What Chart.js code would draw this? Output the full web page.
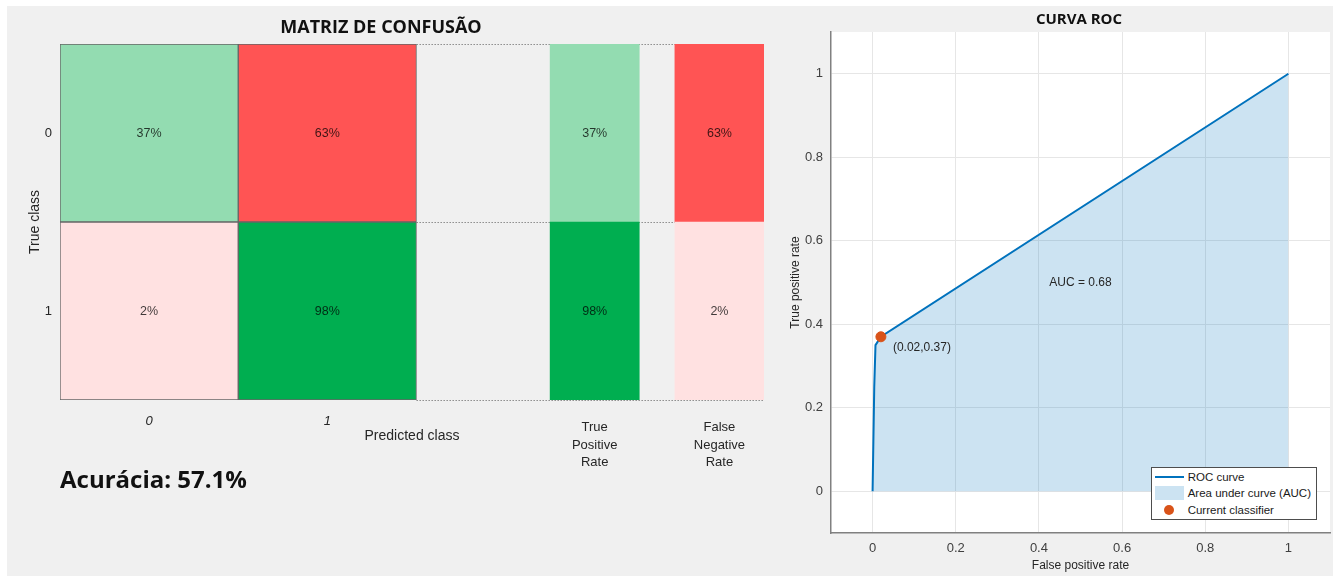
<!DOCTYPE html>
<html lang="pt-BR">
<head>
<meta charset="utf-8">
<title>Matriz de confusão e curva ROC</title>
<script src="https://cdn.jsdelivr.net/npm/chart.js@4.4.1/dist/chart.umd.min.js"></script>
<style>
  html, body { margin: 0; padding: 0; background: #fff; }
  body { width: 1336px; height: 576px; position: relative; overflow: hidden; font-family: 'Liberation Sans', Arial, sans-serif; }
  #fundo { position: absolute; left: 7px; top: 6px; width: 1326px; height: 570px; background: #f0f0f0; }
  .painel { position: absolute; top: 0; height: 576px; }
  #painelMatriz { left: 0; width: 780px; }
  #painelRoc { left: 780px; width: 556px; }
  .titulo { position: absolute; font-family: 'Open Sans', sans-serif; font-weight: 700; line-height: 20px; color: #111; transform: translateX(-50%); white-space: nowrap; }
  #acuracia { position: absolute; left: 60px; top: 464px; font-family: 'Open Sans', sans-serif; font-weight: 700; font-size: 24px; line-height: 30px; color: #111; }
  #rocLegenda { position: absolute; background: #fff; border: 1px solid #4d4d4d; padding: 1px 5px 1px 3px; font-size: 11.5px; color: #1a1a1a; }
  .item { display: flex; align-items: center; height: 16.5px; }
  .simbolo { width: 29px; height: 14px; margin-right: 4px; display: flex; align-items: center; justify-content: center; }
</style>
</head>
<body>
<div id="fundo"></div>

<div class="painel" id="painelMatriz">
  <canvas id="cmChart" width="780" height="576"></canvas>
  <div class="titulo" style="left:381px; top:16px; font-size:18px;">MATRIZ DE CONFUSÃO</div>
  <div id="acuracia"></div>
</div>

<div class="painel" id="painelRoc">
  <canvas id="rocChart" width="556" height="576"></canvas>
  <div class="titulo" style="left:299px; top:8px; font-size:15px;">CURVA ROC</div>
  <div id="rocLegenda"></div>
</div>

<script>
// Dados da matriz de confusão (percentual por linha / classe verdadeira)
const classLabels = ['0', '1'];
const confusionPct = [
  [37, 63],
  [2, 98]
];
const tprPct = [37, 98];
const fnrPct = [63, 2];
const summaryLabels = [['True', 'Positive', 'Rate'], ['False', 'Negative', 'Rate']];
const accuracyPct = 57.1;

// Dados da curva ROC
const rocFpr = [0, 0.004, 0.007, 0.02, 1];
const rocTpr = [0, 0.25, 0.35, 0.37, 1];
const classifierFpr = 0.02;
const classifierTpr = 0.37;
const aucValue = 0.68;
const rocTicks = [0, 0.2, 0.4, 0.6, 0.8, 1];

Chart.defaults.font.family = "'Liberation Sans', Arial, sans-serif";
Chart.defaults.color = '#262626';

/**
 * Matriz de confusão
 */
// Colunas do gráfico em unidades de meia célula: classe 0, classe 1, TPR, FNR
const colunas = [[0, 2], [2, 4], [5.5, 6.5], [6.9, 7.9]];
// Cores de cada célula (verde = acerto, vermelho = erro)
const corCelula = [['#93dcb1', '#ff5454'], ['#ffe1e1', '#00ae50']];

const matrixDatasets = classLabels.map((c, j) => ({
  label: 'Predicted ' + c,
  data: classLabels.map(() => colunas[j]),
  pct: confusionPct.map(row => row[j]),
  backgroundColor: classLabels.map((_, i) => corCelula[i][j]),
  borderColor: '#666666',
  borderWidth: 1
}));

const summaryDatasets = [
  {
    label: 'True Positive Rate',
    data: classLabels.map(() => colunas[2]),
    pct: tprPct,
    backgroundColor: classLabels.map((_, i) => corCelula[i][i]),
    borderWidth: 0
  },
  {
    label: 'False Negative Rate',
    data: classLabels.map(() => colunas[3]),
    pct: fnrPct,
    backgroundColor: classLabels.map((_, i) => corCelula[i][1 - i]),
    borderWidth: 0
  }
];

// Linhas pontilhadas que separam as linhas no resumo à direita
const separadores = {
  id: 'separadores',
  beforeDatasetsDraw(chart) {
    const {ctx, chartArea, scales: {x, y}} = chart;
    const x0 = x.getPixelForValue(colunas[1][1]);
    ctx.save();
    ctx.strokeStyle = '#8c8c8c';
    ctx.lineWidth = 1;
    ctx.setLineDash([1.5, 1.5]);
    for (let i = 0; i <= classLabels.length; i++) {
      const py = Math.round(y.getPixelForValue(i - 0.5)) + 0.5;
      ctx.beginPath();
      ctx.moveTo(x0, py);
      ctx.lineTo(chartArea.right, py);
      ctx.stroke();
    }
    ctx.restore();
  }
};

// Percentual escrito no centro de cada célula
const textoCelulas = {
  id: 'textoCelulas',
  afterDatasetsDraw(chart) {
    const {ctx} = chart;
    ctx.save();
    ctx.font = "12.5px 'Liberation Sans', Arial, sans-serif";
    ctx.fillStyle = 'rgba(0, 0, 0, 0.75)';
    ctx.textAlign = 'center';
    ctx.textBaseline = 'middle';
    chart.data.datasets.forEach((ds, d) => {
      chart.getDatasetMeta(d).data.forEach((el, i) => {
        const p = el.getCenterPoint();
        ctx.fillText(ds.pct[i] + '%', p.x, p.y + 1);
      });
    });
    ctx.restore();
  }
};

const ctxMatriz = document.getElementById('cmChart').getContext('2d');
const cmChart = new Chart(ctxMatriz, {
  type: 'bar',
  data: {
    labels: classLabels,
    datasets: [...matrixDatasets, ...summaryDatasets]
  },
  options: {
    responsive: false,
    animation: false,
    indexAxis: 'y',
    layout: { padding: { top: 44, right: 16, bottom: 76, left: 0 } },
    datasets: {
      bar: { grouped: false, categoryPercentage: 1, barPercentage: 1, borderSkipped: false }
    },
    plugins: { legend: { display: false }, tooltip: { enabled: false } },
    scales: {
      x: {
        type: 'linear',
        min: 0,
        max: 7.9,
        grid: { display: false, drawTicks: false },
        border: { display: false },
        afterBuildTicks: s => { s.ticks = colunas.map(c => ({ value: (c[0] + c[1]) / 2 })); },
        afterFit: s => { s.height = 100; },
        ticks: {
          autoSkip: false,
          maxRotation: 0,
          padding: 19,
          color: '#262626',
          callback: (v, i) => i < 2 ? classLabels[i] : summaryLabels[i - 2],
          // rótulos das classes ficam um pouco acima dos do resumo
          font: c => c.index < 2 ? { size: 13, style: 'italic', lineHeight: 0.3 } : { size: 13, lineHeight: 1.35 }
        },
        title: { display: true, text: 'Predicted class', font: { size: 14 }, color: '#262626', padding: { bottom: 55 } }
      },
      y: {
        grid: { display: false, drawTicks: false },
        border: { display: false },
        afterFit: s => { s.width = 60; },
        ticks: { padding: 8, font: { size: 13 }, color: '#262626' },
        title: { display: true, text: 'True class', font: { size: 14 }, color: '#262626', padding: { top: 27 } }
      }
    }
  },
  plugins: [separadores, textoCelulas]
});

document.getElementById('acuracia').textContent = 'Acurácia: ' + accuracyPct.toFixed(1) + '%';

/**
 * Curva ROC
 */
const rocPontos = rocFpr.map((fpr, i) => ({ x: fpr, y: rocTpr[i] }));

// Fundo branco da área do gráfico
const fundoBranco = {
  id: 'fundoBranco',
  beforeDraw(chart) {
    const {ctx, chartArea: a} = chart;
    ctx.save();
    ctx.fillStyle = '#ffffff';
    ctx.fillRect(a.left, a.top, a.right - a.left, a.bottom - a.top);
    ctx.restore();
  }
};

// Textos da AUC e do ponto do classificador
const anotacoesRoc = {
  id: 'anotacoesRoc',
  afterDatasetsDraw(chart) {
    const {ctx, scales: {x, y}} = chart;
    ctx.save();
    ctx.font = "12px 'Liberation Sans', Arial, sans-serif";
    ctx.fillStyle = '#262626';
    ctx.textBaseline = 'middle';
    ctx.textAlign = 'center';
    ctx.fillText('AUC = ' + aucValue.toFixed(2), x.getPixelForValue(0.5), y.getPixelForValue(0.5));
    ctx.textAlign = 'left';
    ctx.fillText('(' + classifierFpr.toFixed(2) + ',' + classifierTpr.toFixed(2) + ')',
      x.getPixelForValue(classifierFpr) + 12, y.getPixelForValue(classifierTpr) + 11);
    ctx.restore();
  }
};

// Legenda em HTML no canto inferior direito da área do gráfico
const legendaHtml = {
  id: 'legendaHtml',
  afterRender(chart) {
    const box = document.getElementById('rocLegenda');
    if (!box.childElementCount) {
      chart.data.datasets.forEach(ds => {
        const item = document.createElement('div');
        item.className = 'item';
        const simb = document.createElement('span');
        simb.className = 'simbolo';
        const marca = document.createElement('span');
        if (ds.fill) {
          marca.style.cssText = 'width:29px;height:14px;background:' + ds.backgroundColor;
        } else if (ds.type === 'scatter') {
          marca.style.cssText = 'width:10px;height:10px;border-radius:50%;background:' + ds.backgroundColor;
        } else {
          marca.style.cssText = 'width:29px;height:2px;background:' + ds.borderColor;
        }
        simb.appendChild(marca);
        item.appendChild(simb);
        item.appendChild(document.createTextNode(ds.label));
        box.appendChild(item);
      });
    }
    const a = chart.chartArea;
    box.style.right = (chart.width - a.right + 13) + 'px';
    box.style.bottom = (chart.height - a.bottom + 13) + 'px';
  }
};

const ctxRoc = document.getElementById('rocChart').getContext('2d');
const rocChart = new Chart(ctxRoc, {
  type: 'line',
  data: {
    datasets: [
      {
        label: 'ROC curve',
        data: rocPontos,
        borderColor: '#0072bd',
        borderWidth: 2,
        pointRadius: 0,
        fill: false,
        order: 1
      },
      {
        label: 'Area under curve (AUC)',
        data: rocPontos,
        backgroundColor: 'rgba(0, 114, 189, 0.2)',
        borderWidth: 0,
        pointRadius: 0,
        fill: 'origin',
        order: 2
      },
      {
        type: 'scatter',
        label: 'Current classifier',
        data: [{ x: classifierFpr, y: classifierTpr }],
        backgroundColor: '#d95319',
        borderColor: '#d95319',
        pointRadius: 5,
        order: 0
      }
    ]
  },
  options: {
    responsive: false,
    animation: false,
    layout: { padding: { top: 32, right: 6, bottom: 0, left: 0 } },
    elements: { line: { tension: 0 } },
    plugins: { legend: { display: false }, tooltip: { enabled: false } },
    scales: {
      x: {
        type: 'linear',
        min: -0.1,
        max: 1.1,
        afterBuildTicks: s => { s.ticks = rocTicks.map(v => ({ value: v })); },
        afterFit: s => { s.height = 43; },
        grid: { color: '#e6e6e6', drawTicks: false },
        border: { color: '#808080', width: 1.5 },
        ticks: { padding: 8, font: { size: 13 }, color: '#404040', callback: v => String(v) },
        title: { display: true, text: 'False positive rate', font: { size: 12 }, color: '#262626', padding: { bottom: 3 } }
      },
      y: {
        type: 'linear',
        min: -0.1,
        max: 1.1,
        afterBuildTicks: s => { s.ticks = rocTicks.map(v => ({ value: v })); },
        afterFit: s => { s.width = 51; },
        grid: { color: '#e6e6e6', drawTicks: false },
        border: { color: '#808080', width: 1.5 },
        ticks: { padding: 8, font: { size: 13 }, color: '#404040', callback: v => String(v) },
        title: { display: true, text: 'True positive rate', font: { size: 12 }, color: '#262626', padding: { top: 8 } }
      }
    }
  },
  plugins: [fundoBranco, anotacoesRoc, legendaHtml]
});
</script>
</body>
</html>
